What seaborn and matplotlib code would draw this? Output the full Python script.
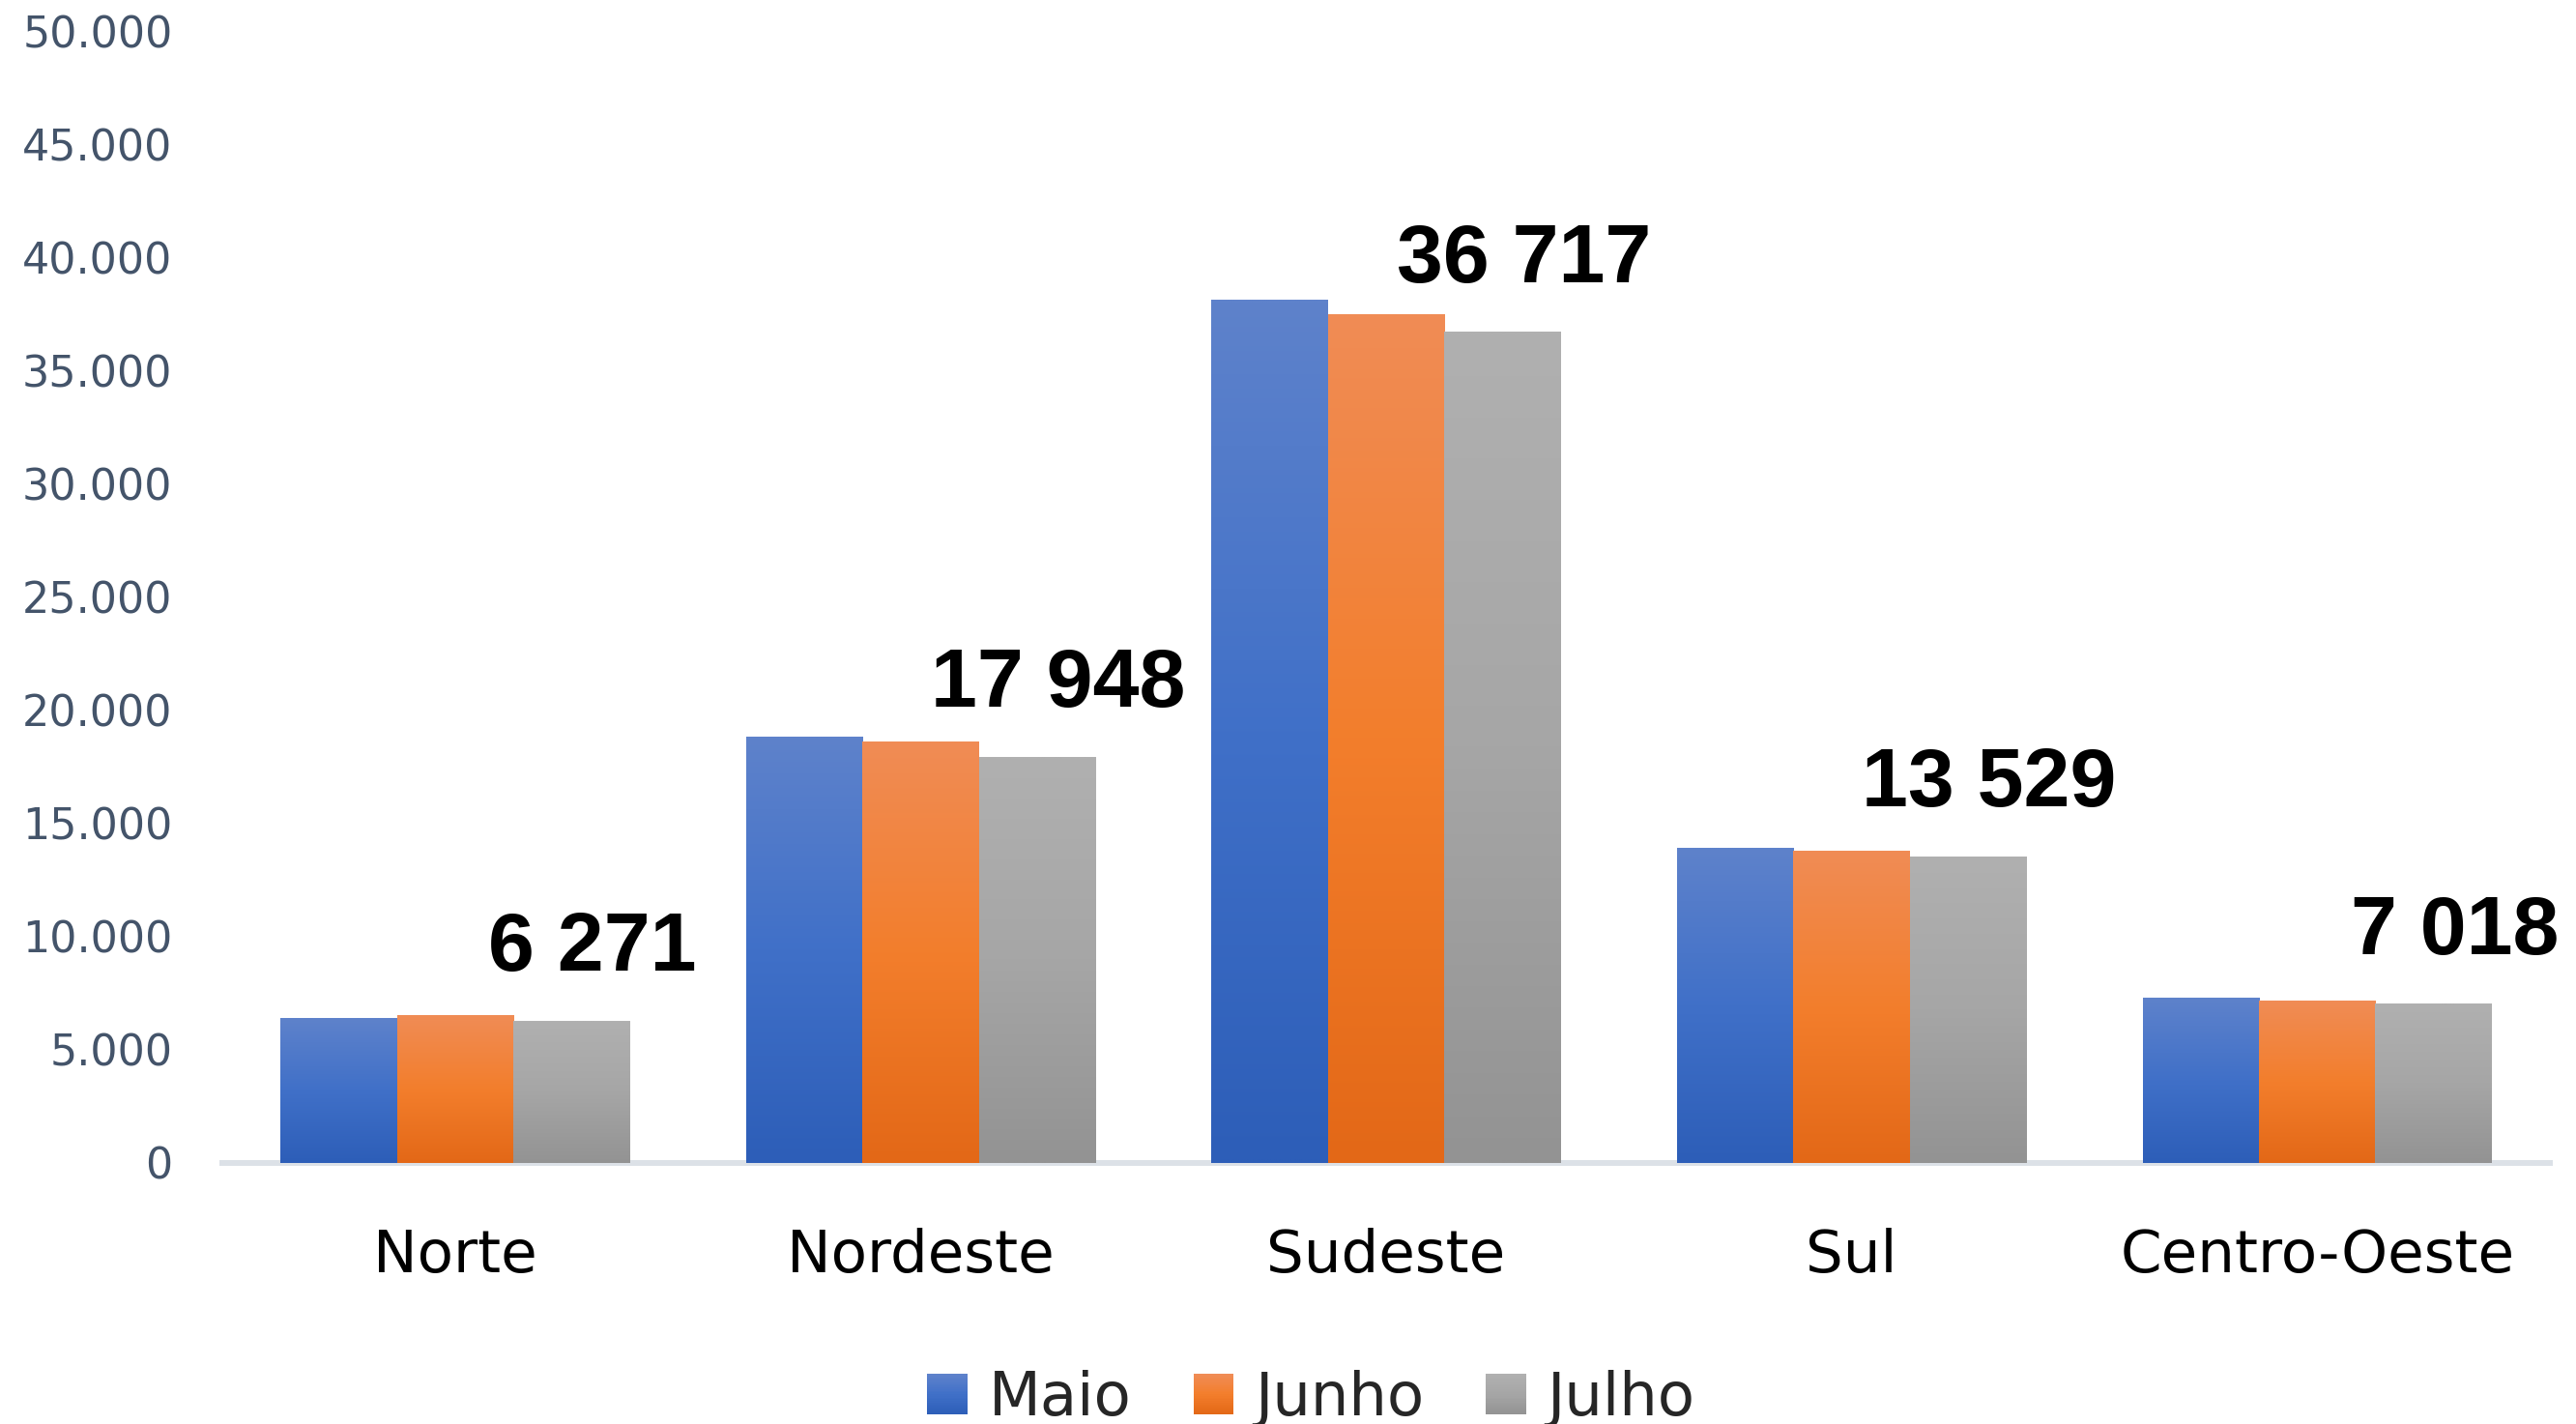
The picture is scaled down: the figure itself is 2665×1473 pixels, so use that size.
import matplotlib
matplotlib.use("Agg")
import matplotlib.pyplot as plt
import numpy as np
import pandas as pd
import seaborn as sns
from matplotlib.legend_handler import HandlerBase
from matplotlib.patches import Patch, Rectangle


regioes = ["Norte", "Nordeste", "Sudeste", "Sul", "Centro-Oeste"]
meses = ["Maio", "Junho", "Julho"]

maio = [6390, 18846, 38120, 13910, 7270]
junho = [6520, 18590, 37480, 13780, 7140]
julho = [6271, 17948, 36717, 13529, 7018]

rotulos_julho = ["6 271", "17 948", "36 717", "13 529", "7 018"]

y_ticks = [0, 5000, 10000, 15000, 20000, 25000, 30000, 35000, 40000, 45000, 50000]
y_tick_labels = ["0", "5.000", "10.000", "15.000", "20.000", "25.000",
                 "30.000", "35.000", "40.000", "45.000", "50.000"]

# gradient stops per series (top, middle, bottom)
gradientes = {
    "Maio": ["#5E82CB", "#4070C8", "#2D5EB8"],
    "Junho": ["#F08C55", "#F37E2C", "#E36817"],
    "Julho": ["#B0B0B0", "#A6A6A6", "#939393"],
}


def gradient_colors(stops, n=64):
    rgb = np.array([matplotlib.colors.to_rgb(c) for c in stops])
    pos = np.linspace(0, 1, len(stops))
    t = np.linspace(0, 1, n)
    return np.stack([np.interp(t, pos, rgb[:, k]) for k in range(3)], axis=1)


class GradientHandler(HandlerBase):
    def __init__(self, stops):
        super().__init__()
        self.stops = stops

    def create_artists(self, legend, orig_handle, xdescent, ydescent,
                       width, height, fontsize, trans):
        n = 24
        cols = gradient_colors(self.stops, n)
        arts = []
        for k in range(n):
            y0 = -ydescent + height * (1 - (k + 1) / n)
            arts.append(Rectangle((-xdescent, y0), width, height / n * 1.05,
                                  facecolor=cols[k], edgecolor="none",
                                  transform=trans))
        return arts


def main():
    df = pd.DataFrame({
        "regiao": regioes * 3,
        "mes": [m for m in meses for _ in regioes],
        "valor": maio + junho + julho,
    })

    sns.set_style("white")
    plt.rcParams["font.family"] = ["DejaVu Sans"]

    fig = plt.figure(figsize=(26.65, 14.73), dpi=100)
    ax = fig.add_axes([0.0863, 0.1833, 0.9036, 0.7943])

    paleta = [gradientes[m][1] for m in meses]
    sns.barplot(data=df, x="regiao", y="valor", hue="mes", palette=paleta,
                width=0.75, saturation=1, linewidth=0, legend=False, ax=ax)

    # paint vertical gradients over each bar
    for mes, container in zip(meses, ax.containers):
        grad = gradient_colors(gradientes[mes], 128)[:, None, :]
        for bar in container:
            x0 = bar.get_x()
            w = bar.get_width()
            h = bar.get_height()
            ax.imshow(grad, extent=(x0, x0 + w, 0, h), aspect="auto",
                      interpolation="bilinear", zorder=bar.get_zorder() + 0.1)

    # labels above Julho bars
    for bar, texto in zip(ax.containers[2], rotulos_julho):
        xc = bar.get_x() + bar.get_width() / 2
        ax.annotate(texto, xy=(xc, bar.get_height()), xytext=(22, 52),
                    textcoords="offset pixels", ha="center", va="baseline",
                    fontsize=62, fontweight="bold", color="black",
                    family=["Liberation Sans", "DejaVu Sans"], zorder=5)

    ax.set_xlim(-0.5, 4.5)
    ax.set_ylim(0, 50000)
    ax.set_yticks(y_ticks)
    ax.set_yticklabels(y_tick_labels)
    for lbl in ax.get_yticklabels():
        lbl.set_fontsize(32)
        lbl.set_color("#44546A")

    ax.tick_params(axis="y", length=0, pad=37)
    ax.tick_params(axis="x", length=0, pad=48, labelsize=44, labelcolor="black")
    ax.set_xlabel("")
    ax.set_ylabel("")

    for side in ["top", "right", "left"]:
        ax.spines[side].set_visible(False)
    ax.spines["bottom"].set_color("#DCE1E7")
    ax.spines["bottom"].set_linewidth(4.3)
    ax.spines["bottom"].set_zorder(0.5)
    ax.grid(False)

    handles = [Patch(label=m) for m in meses]
    fig.legend(handles=handles, labels=meses, loc="center",
               bbox_to_anchor=(0.509, 0.0175), ncol=3, frameon=False,
               fontsize=45, handlelength=0.66, handleheight=0.66,
               handletextpad=0.35, columnspacing=1.03,
               handler_map={h: GradientHandler(gradientes[m]) for h, m in zip(handles, meses)})

    fig.savefig("out.png", dpi=100)
    plt.close(fig)


if __name__ == "__main__":
    main()
